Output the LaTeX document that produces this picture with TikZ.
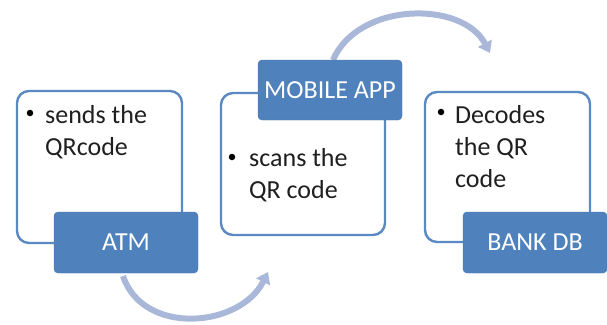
\documentclass[tikz,border=0pt]{standalone}
\usepackage{fontspec}
\setmainfont{Carlito}
\usetikzlibrary{arrows.meta}
\definecolor{boxblue}{HTML}{4F81BD}
\definecolor{edgeblue}{HTML}{5A89C4}
\definecolor{arcblue}{HTML}{A9B7D8}
\begin{document}
\begin{tikzpicture}[x=1pt,y=-1pt,
  card/.style={draw=edgeblue,line width=2.4pt,fill=white,rounded corners=12pt},
  tag/.style={fill=boxblue,draw=boxblue!92!black,line width=0.4pt,rounded corners=4pt,text=white,font=\fontsize{26}{32}\selectfont},
  body/.style={anchor=base west,inner sep=0pt,font=\fontsize{26}{32}\selectfont,text=black!88},
  bul/.style={circle,fill=black,inner sep=0pt,minimum size=6.5pt},
  arc/.style={draw=arcblue,line width=6pt,-{Triangle[length=11pt,width=15pt]}}]
\useasboundingbox (0,0) rectangle (607,324);
% cards
\path[card] (17,91) rectangle (182,243);
\path[card] (221,93) rectangle (385,235);
\path[card] (425,92) rectangle (590,242);
% arcs
\coordinate (a1s) at (123,276);
\coordinate (a1e) at (268,272);
\coordinate (a2s) at (333,60);
\coordinate (a2e) at (490,53);
\draw[arc] (a1s) .. controls (143,336) and (240,328) .. (a1e);
\draw[arc] (a2s) .. controls (358,2) and (462,0) .. (a2e);
% tags
\node[tag,minimum width=144pt,minimum height=61pt] (atm) at (126,242.5) {ATM};
\node[tag,minimum width=144pt,minimum height=60pt] (app) at (330,90) {MOBILE APP};
\node[tag,minimum width=144pt,minimum height=61pt] (db) at (535,242.5) {BANK DB};
% texts
\node[bul] (b1) at (30,113) {};
\node[body] (t1a) at (45,123) {sends the};
\node[body] (t1b) at (45,155) {QRcode};
\node[bul] (b2) at (232,157) {};
\node[body] (t2a) at (249,166) {scans the};
\node[body] (t2b) at (249,198) {QR code};
\node[bul] (b3) at (441,112) {};
\node[body] (t3a) at (455,123) {Decodes};
\node[body] (t3b) at (455,155) {the QR};
\node[body] (t3c) at (455,187) {code};
\end{tikzpicture}
\end{document}
